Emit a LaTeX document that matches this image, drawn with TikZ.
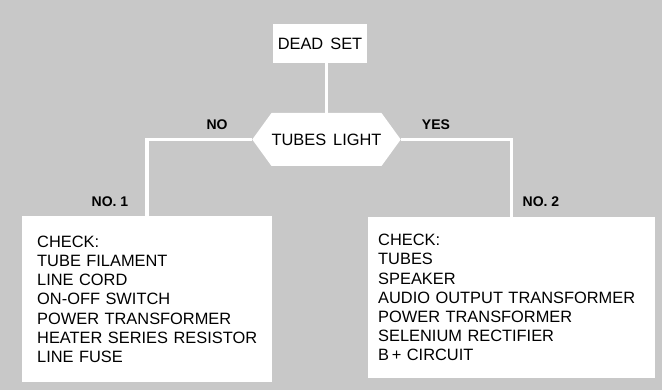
\documentclass[tikz,border=0pt]{standalone}
\usepackage{fontspec}
\setmainfont{Liberation Sans}
\usetikzlibrary{shapes.symbols}
\definecolor{bg}{RGB}{200,200,200}
\newcommand\widesp{\spaceskip=7pt\relax}
\begin{document}
\begin{tikzpicture}[x=1pt,y=-1pt,
  wire/.style={draw=white, line width=3.5pt},
  box/.style={fill=white, draw=none, inner sep=0pt, font=\fontsize{16.4}{19.2}\selectfont\widesp},
  listbox/.style={box, align=left, anchor=north west, inner ysep=0pt},
  lab/.style={font=\fontsize{14}{14}\selectfont\bfseries, inner sep=0pt}]
\fill[bg] (0,0) rectangle (662,390);
\path[use as bounding box] (0,0) rectangle (662,390);
% nodes
\node[box, minimum width=94pt, minimum height=39pt] (dead) at (320,43.5) {DEAD SET};
\node[box, signal, signal to=west and east, signal pointer angle=108,
      minimum width=147pt, minimum height=53pt] (tubes) at (326.5,139.5) {TUBES LIGHT};
\node[listbox, text width=220pt, inner xsep=15pt, minimum height=166pt] (box1) at (22,216)
  {CHECK:\\TUBE FILAMENT\\LINE CORD\\ON-OFF SWITCH\\POWER TRANSFORMER\\HEATER SERIES RESISTOR\\LINE FUSE};
\node[listbox, text width=267pt, inner xsep=10pt, minimum height=161pt] (box2) at (368,217)
  {CHECK:\\TUBES\\SPEAKER\\AUDIO OUTPUT TRANSFORMER\\POWER TRANSFORMER\\SELENIUM RECTIFIER\\B\,+ CIRCUIT};
% connectors
\draw[wire] (tubes.north) -- (tubes.north |- dead.south);
\draw[wire] (tubes.west) -| (box1.north);
\draw[wire] (tubes.east) -| (box2.north);
% labels
\node[lab] (no) at (217,125) {NO};
\node[lab] (yes) at (436,125) {YES};
\node[lab] (no1) at (110,202) {NO. 1};
\node[lab] (no2) at (541,202) {NO. 2};
\end{tikzpicture}
\end{document}
